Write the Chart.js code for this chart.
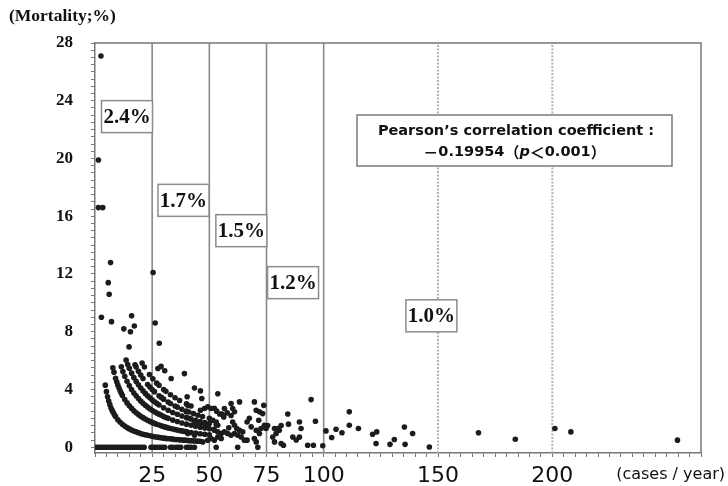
<!DOCTYPE html>
<html>
<head>
<meta charset="utf-8">
<script src="https://cdn.jsdelivr.net/npm/chart.js@4/dist/chart.umd.min.js"></script>
<style>
  body { margin: 0; background: #fff; }
  #wrap { width: 728px; height: 486px; }
</style>
</head>
<body>
<div id="wrap"><canvas id="chart" width="728" height="486"></canvas></div>
<script>
// Data: [cases per year, mortality %]
const zeroRow = [[0.5,0],[1.5,0],[2.5,0],[3.5,0],[4.5,0],[5.5,0],[6.5,0],[7.5,0],[8.5,0],[9.5,0],[10.5,0],[11.5,0],[12.5,0],[13.5,0],[14.5,0],[15.5,0],[16.5,0],[17.5,0],[18.5,0],[19.5,0],[20.5,0],[21.5,0],[24.5,0],[25.5,0],[26.5,0],[27.5,0],[28.5,0],[29.5,0],[30.5,0],[33,0],[34,0],[35.5,0],[36.5,0],[37.5,0],[40,0],[41,0],[42,0],[43.5,0],[53,0],[62.4,0],[71.2,0]];

const curveOne = [[4.5,4.3],[5,3.85],[5.5,3.5],[6,3.2],[6.5,2.95],[7,2.72],[7.5,2.55],[8,2.4],[8.5,2.25],[9,2.12],[10,1.9],[11,1.73],[12,1.59],[13,1.47],[14,1.36],[15,1.27],[16,1.19],[17,1.12],[18,1.06],[19,1.0],[20,0.95],[21,0.9],[22,0.86],[23,0.83],[24,0.79],[25,0.76],[26,0.73],[27,0.7],[28,0.68],[29,0.66],[30,0.63],[31,0.61],[32,0.59],[33,0.58],[34,0.56],[35,0.54],[36,0.53],[37,0.51],[38,0.5],[39,0.49],[40,0.48],[41,0.46],[42,0.45],[43,0.44],[44,0.43],[45,0.42],[46,0.41]];

const curveTwo = [[7.8,5.5],[8.3,5.2],[9,4.78],[9.5,4.53],[10,4.3],[10.5,4.1],[11,3.91],[11.5,3.74],[12,3.58],[13,3.31],[14,3.07],[15,2.87],[16,2.69],[17,2.53],[18,2.39],[19,2.26],[20,2.15],[21,2.05],[22,1.95],[23,1.87],[24,1.79],[25,1.72],[26,1.65],[27,1.59],[28,1.54],[29,1.48],[30,1.43],[31,1.39],[32,1.34],[33,1.3],[34,1.26],[35,1.23],[36,1.19],[37,1.16],[38,1.13],[39,1.1],[40,1.08],[42,1.02],[44,0.98],[46,0.93],[48,0.9],[50,0.86]];

const curveThree = [[11.5,5.57],[12.2,5.25],[13,4.92],[14,4.57],[15,4.27],[16,4.0],[17,3.76],[18,3.56],[19,3.37],[20,3.2],[21,3.05],[22,2.91],[23,2.78],[24,2.67],[25,2.56],[26,2.46],[27,2.37],[28,2.29],[29,2.21],[30,2.13],[31,2.06],[32,2.0],[34,1.88],[36,1.78],[38,1.68],[40,1.6],[42,1.52],[44,1.45],[46,1.39],[48,1.33],[50,1.28],[52,1.23]];

const curveFour = [[13.6,6.03],[14.3,5.73],[15,5.47],[16,5.13],[17,4.82],[18,4.56],[19,4.32],[20,4.1],[21,3.9],[22,3.73],[23,3.57],[24,3.42],[25,3.28],[26,3.15],[27,3.04],[28,2.93],[30,2.73],[32,2.56],[34,2.41],[36,2.28],[38,2.16],[40,2.05],[42,1.95],[44,1.86],[46,1.78],[48,1.71],[50,1.64],[53,1.55]];

const curveFive = [[17.5,5.71],[18,5.56],[19,5.26],[20,5.0],[21,4.76],[23,4.35],[24,4.17],[25,4.0],[26,3.85],[28,3.57],[29,3.45],[30,3.33],[32,3.13],[33,3.03],[35,2.86],[36,2.78],[38,2.63],[40,2.5],[41,2.44],[43,2.33],[45,2.22],[47,2.13],[50,2.0]];

const curveSix = [[20.6,5.83],[21.6,5.56],[23.8,5.04],[25.3,4.74],[27,4.44],[28,4.29],[30,4.0],[31,3.87],[33,3.64],[35,3.43],[37,3.24],[40,3.0],[42,2.86]];

const highPoints = [[2.6,27.1],[1.5,19.9],[1.5,16.6],[3.4,16.6],[6.8,12.8],[5.8,11.4],[6.2,10.6],[2.8,9.0],[7.2,8.7],[12.6,8.2],[15.5,8.0],[16,9.1],[17.2,8.4],[14.9,6.95],[25.4,12.1],[26.3,8.6],[28.1,7.2],[27.5,5.45],[28.9,5.6],[30.5,5.3],[33.3,4.76],[39.1,5.1]];

const midPoints = [[40.3,3.5],[40.6,2.9],[39.9,2.45],[41.3,2.0],[43.5,1.75],[45.7,1.64],[47.9,1.64],[49.3,1.52],[40.6,0.95],[43.5,0.83],[43.5,4.1],[46.1,3.9],[46.7,3.37],[46.1,2.56],[47.9,2.68],[49.3,2.8],[47.1,0.37],[49.3,0.48],[53.7,3.7],[50.8,2.68],[52.2,2.7],[53.2,2.5],[54.5,2.3],[55.5,2.3],[56.3,2.1],[56.6,2.68],[57.8,2.38],[59.5,3.03],[60.2,2.68],[61,2.45],[59.5,2.2],[60.2,1.75],[61,1.52],[63.2,3.14],[69.7,3.14],[70.5,2.56],[71.9,2.45],[73.3,2.33],[73.8,2.9],[51.5,1.87],[53,1.75],[53.7,1.52],[52.2,1.18],[53.7,1.06],[55.2,0.95],[56.6,1.06],[58,0.95],[59.5,0.83],[61,0.95],[62.4,0.83],[63.9,0.71],[65.3,0.49],[63.2,1.18],[64.6,1.06],[68.3,1.41],[70.5,1.18],[71.9,0.95],[69.7,0.6],[70.5,0.37],[66.5,0.49],[72.6,1.3],[74.1,1.52],[50.8,0.6],[52.2,0.49],[53.7,0.71],[55.2,0.6],[71.6,1.87],[58.5,1.35],[62,1.3],[66.5,1.75],[67.5,2.0]];

const tailPoints = [[74.8,1.3],[75.5,1.5],[77.7,0.71],[78.5,0.37],[78.5,1.3],[79.2,0.95],[79.9,1.3],[80.6,1.18],[81.4,1.5],[81.4,0.26],[82.4,0.14],[84.3,2.3],[84.6,1.6],[86.5,0.7],[88,0.5],[89.4,1.75],[89.4,0.7],[90.1,1.3],[93,0.14],[95.5,0.14],[94.5,3.3],[96.4,1.8],[99.6,0.1],[101,1.13],[103.5,0.67],[105.4,1.25],[108,1.0],[111.2,2.45],[111.2,1.52],[115.2,1.3],[121.4,0.9],[123.2,1.06],[122.9,0.26],[129,0.2],[130.9,0.53],[135.3,1.4],[135.6,0.2],[138.9,0.95],[146.2,0.02],[167.7,1.0],[183.8,0.55],[201.1,1.3],[208.1,1.06],[254.7,0.49]];

const cutoffCases = [25, 50, 75, 100, 150, 200];
const xLabelCases = [25, 50, 75, 100, 150, 200];
const yLabelValues = [0, 4, 8, 12, 16, 20, 24, 28];
const binRates = ['2.4%', '1.7%', '1.5%', '1.2%', '1.0%'];

const X_MAX = 265, Y_MIN = -0.4, Y_MAX = 28;

// where each rate box sits (value coords of its centre)
const rateBoxAt = [[14.0, 22.9], [38.7, 17.1], [64.0, 15.0], [86.6, 11.4], [147.1, 9.1]];

const SANS = '"DejaVu Sans", sans-serif';
const CJK = '"Noto Sans CJK JP", sans-serif';

const allPoints = [].concat(zeroRow, curveOne, curveTwo, curveThree, curveFour, curveFive, curveSix,
  highPoints, midPoints, tailPoints).map(([x, y]) => ({ x, y }));

const cutoffSets = cutoffCases.map(c => ({
  type: 'line',
  data: [{ x: c, y: Y_MIN }, { x: c, y: Y_MAX }],
  borderColor: c <= 100 ? '#8a8a8a' : '#b4b4b4',
  borderWidth: c <= 100 ? 1.6 : 2,
  borderDash: c <= 100 ? [] : [2, 1.5],
  pointRadius: 0,
  showLine: true
}));

const annotate = {
  id: 'annotate',
  afterDatasetsDraw(chart) {
    const { ctx, chartArea: a, scales: { x, y } } = chart;
    ctx.save();
    ctx.strokeStyle = '#777';
    ctx.lineWidth = 1.5;
    ctx.beginPath();
    ctx.moveTo(a.left, a.top);
    ctx.lineTo(a.right, a.top);
    ctx.lineTo(a.right, a.bottom);
    ctx.stroke();

    // rate boxes
    binRates.forEach((r, i) => {
      const cx = x.getPixelForValue(rateBoxAt[i][0]);
      const cy = y.getPixelForValue(rateBoxAt[i][1]);
      ctx.fillStyle = '#fff';
      ctx.fillRect(cx - 25.5, cy - 16, 51, 32);
      ctx.strokeStyle = '#8c8c8c';
      ctx.lineWidth = 1.5;
      ctx.strokeRect(cx - 25.5, cy - 16, 51, 32);
      ctx.fillStyle = '#111';
      ctx.font = 'bold 21px "Liberation Serif", serif';
      ctx.textAlign = 'center';
      ctx.textBaseline = 'middle';
      ctx.fillText(r, cx, cy + 1);
    });

    // correlation box
    ctx.fillStyle = '#fff';
    ctx.fillRect(357, 115, 315, 51);
    ctx.strokeStyle = '#7a7a7a';
    ctx.lineWidth = 1.5;
    ctx.strokeRect(357, 115, 315, 51);
    ctx.fillStyle = '#111';
    ctx.textAlign = 'center';
    ctx.textBaseline = 'middle';
    ctx.font = 'bold 14.5px ' + SANS;
    ctx.fillText('Pearson’s correlation coefficient :', 516, 131.5);
    const parts = [
      ['－', 'bold 15px ' + CJK],
      ['0.19954', 'bold 14.5px ' + SANS],
      ['（', 'bold 15px ' + CJK],
      ['p', 'italic bold 14.5px ' + SANS],
      ['＜', 'bold 15px ' + CJK],
      ['0.001', 'bold 14.5px ' + SANS],
      ['）', 'bold 15px ' + CJK]
    ];
    let total = 0;
    parts.forEach(p => { ctx.font = p[1]; total += ctx.measureText(p[0]).width; });
    let px = 514.5 - total / 2;
    ctx.textAlign = 'left';
    parts.forEach(p => {
      ctx.font = p[1];
      ctx.fillText(p[0], px, 152.5);
      px += ctx.measureText(p[0]).width;
    });
    ctx.restore();
  },
  afterDraw(chart) {
    const { ctx } = chart;
    ctx.save();
    ctx.fillStyle = '#111';
    ctx.textBaseline = 'middle';
    ctx.textAlign = 'left';
    ctx.font = 'bold 17.5px "Liberation Serif", serif';
    ctx.fillText('(Mortality;%)', 9, 16);
    ctx.font = '16px ' + SANS;
    ctx.textAlign = 'right';
    ctx.fillText('(cases / year)', 725, 475);
    ctx.restore();
  }
};

new Chart(document.getElementById('chart'), {
  type: 'scatter',
  data: {
    datasets: [{
      data: allPoints,
      backgroundColor: '#1c1c1c',
      borderWidth: 0,
      pointRadius: 2.8
    }, ...cutoffSets]
  },
  options: {
    responsive: false,
    animation: false,
    layout: { padding: { top: 43, right: 27, left: 0, bottom: 0 } },
    plugins: { legend: { display: false }, tooltip: { enabled: false } },
    scales: {
      x: {
        type: 'linear',
        min: 0,
        max: X_MAX,
        afterFit: s => { s.height = 33; },
        afterBuildTicks: s => {
          const t = [];
          for (let v = 0; v <= X_MAX; v += 5) t.push({ value: v });
          s.ticks = t;
        },
        ticks: {
          autoSkip: false,
          maxRotation: 0,
          padding: 6,
          color: '#111',
          font: { family: SANS, size: 22 },
          callback: v => xLabelCases.includes(v) ? String(v) : ''
        },
        grid: { drawOnChartArea: false, tickLength: 4, tickColor: '#777', tickWidth: 1 },
        border: { color: '#777', width: 1.5 }
      },
      y: {
        type: 'linear',
        min: Y_MIN,
        max: Y_MAX,
        afterFit: s => { s.width = 95; },
        afterBuildTicks: s => {
          const t = [];
          for (let v = 0; v <= Y_MAX; v += 0.5) t.push({ value: v });
          s.ticks = t;
        },
        ticks: {
          autoSkip: false,
          padding: 18,
          color: '#111',
          font: { family: '"Liberation Serif", serif', size: 17, weight: 'bold' },
          callback: v => yLabelValues.includes(v) ? String(v) : ''
        },
        grid: { drawOnChartArea: false, tickLength: 4, tickColor: '#777', tickWidth: 1 },
        border: { color: '#777', width: 1.5 }
      }
    }
  },
  plugins: [annotate]
});
</script>
</body>
</html>
